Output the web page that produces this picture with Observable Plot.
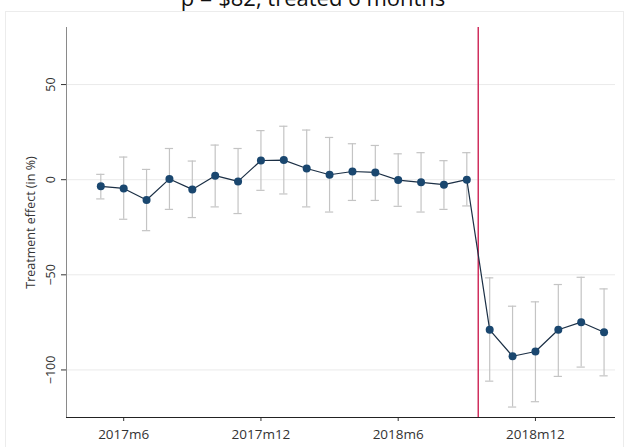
<!DOCTYPE html>
<html>
<head>
<meta charset="utf-8">
<script src="https://cdn.jsdelivr.net/npm/d3@7"></script>
<script src="https://cdn.jsdelivr.net/npm/@observablehq/plot@0.6"></script>
<style>
  html, body { margin: 0; padding: 0; background: #fff; }
  #wrap { position: relative; width: 626px; height: 447px; overflow: hidden; }
  #box { position: absolute; left: 5px; top: 11px; width: 617px; height: 440px; border: 1px solid #ececec; }
  #title { position: absolute; left: 0; top: -14px; width: 626px; text-align: center;
           font-family: "Open Sans", sans-serif; font-size: 22px; line-height: 22px; color: #111; }
  #chart { position: absolute; left: 0; top: 0; }
  #chart svg g[aria-label="x-axis tick label"] text { font-size: 13.5px; }
  #chart svg g[aria-label="y-axis tick label"] text { font-size: 12.5px; }
  #chart svg g[aria-label="y-axis label"] text { font-size: 12.5px; }
</style>
</head>
<body>
<div id="wrap">
  <div id="box"></div>
  <div id="title">p = $82, treated 6 months</div>
  <div id="chart"></div>
</div>
<script>
// Monthly periods (2017m5 .. 2019m3)
const months = ["2017m5","2017m6","2017m7","2017m8","2017m9","2017m10","2017m11","2017m12",
  "2018m1","2018m2","2018m3","2018m4","2018m5","2018m6","2018m7","2018m8","2018m9",
  "2018m10","2018m11","2018m12","2019m1","2019m2","2019m3"];
// Point estimates (%)
const estimates = [-3.5,-4.6,-10.7,0.4,-5.1,2.1,-0.9,10.1,10.3,5.9,2.6,4.3,3.8,-0.2,-1.4,-2.6,0.0,
  -78.9,-92.8,-90.3,-78.9,-74.9,-80.2];
// Confidence interval bounds (%)
const ciLow = [-10.1,-20.8,-26.8,-15.6,-19.9,-14.3,-17.8,-5.6,-7.5,-14.3,-17.0,-10.9,-10.9,-14.0,-17.0,-15.6,-13.8,
  -105.9,-119.5,-116.7,-103.4,-98.5,-103.1];
const ciHigh = [2.8,11.9,5.4,16.4,9.8,18.2,16.4,25.8,28.1,26.1,22.2,18.9,18.0,13.6,14.2,10.0,14.2,
  -51.6,-66.5,-64.2,-55.1,-51.3,-57.4];
// Axis tick labels
const xTickLabels = ["2017m6","2017m12","2018m6","2018m12"];
const yTicks = [-100,-50,0,50];
// Treatment start (between 2018m9 and 2018m10)
const treatmentAfter = "2018m9";

const data = months.map((m, i) => ({month: m, i, est: estimates[i], lo: ciLow[i], hi: ciHigh[i]}));
const xTickValues = xTickLabels.map(l => months.indexOf(l));
const treatX = months.indexOf(treatmentAfter) + 0.5;
const xDomain = [-1.5, months.length - 0.5];
const yDomain = [-125, 80];
const cap = 0.18;

const chart = Plot.plot({
  width: 626,
  height: 447,
  marginLeft: 66,
  marginRight: 11,
  marginTop: 27,
  marginBottom: 30,
  style: {background: "transparent", fontFamily: "'Open Sans', sans-serif", fontSize: "12px", color: "#333"},
  x: {domain: xDomain, ticks: xTickValues, tickFormat: v => months[v], tickSize: 4, tickPadding: 8, label: null},
  y: {domain: yDomain, ticks: yTicks, tickSize: 5, tickRotate: -90, tickPadding: 7,
      label: "Treatment effect (in %)", labelAnchor: "center", labelOffset: 40, labelArrow: "none"},
  marks: [
    Plot.ruleY(yTicks, {stroke: "#eaeaea", strokeWidth: 1}),
    Plot.ruleX([xDomain[0]], {stroke: "#8a8a8a", strokeWidth: 1}),
    Plot.ruleY([yDomain[0]], {stroke: "#222", strokeWidth: 1}),
    Plot.ruleX(data, {x: "i", y1: "lo", y2: "hi", stroke: "#c4c4c4", strokeWidth: 1.2}),
    Plot.ruleY(data, {y: "lo", x1: d => d.i - cap, x2: d => d.i + cap, stroke: "#c4c4c4", strokeWidth: 1.2}),
    Plot.ruleY(data, {y: "hi", x1: d => d.i - cap, x2: d => d.i + cap, stroke: "#c4c4c4", strokeWidth: 1.2}),
    Plot.ruleX([treatX], {stroke: "#d0305e", strokeWidth: 1.5}),
    Plot.line(data, {x: "i", y: "est", stroke: "#1b2f45", strokeWidth: 1.2}),
    Plot.dot(data, {x: "i", y: "est", r: 4, fill: "#1a476f", stroke: "none"})
  ]
});
document.getElementById("chart").appendChild(chart);
</script>
</body>
</html>
